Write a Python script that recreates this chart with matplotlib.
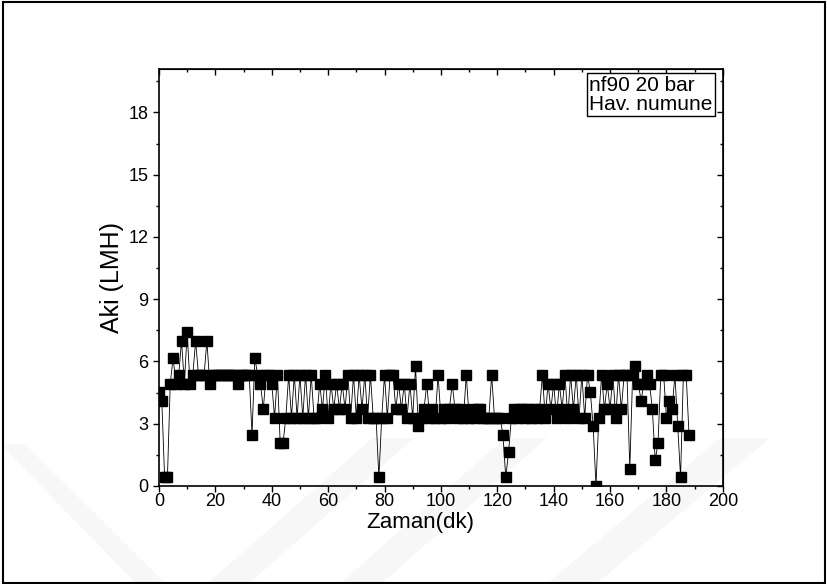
import numpy as np
import matplotlib.pyplot as plt
from matplotlib.patches import Rectangle, Polygon
from matplotlib.ticker import MultipleLocator

plt.rcParams['font.family'] = ['Liberation Sans', 'DejaVu Sans']

# flux readings, one per minute
zaman = list(range(189))
aki = [4.52, 4.11, 0.41, 0.41, 4.93, 6.17, 4.93, 5.35, 6.99, 4.93,
       7.40, 4.93, 5.35, 6.99, 5.35, 5.35, 5.35, 6.99, 4.93, 5.35,
       5.35, 5.35, 5.35, 5.35, 5.35, 5.35, 5.35, 5.35, 4.93, 5.35,
       5.35, 5.35, 5.35, 2.47, 6.17, 5.35, 4.93, 3.70, 5.35, 5.35,
       4.93, 3.29, 5.35, 2.06, 2.06, 3.29, 5.35, 3.29, 5.35, 3.29,
       5.35, 3.29, 5.35, 3.29, 5.35, 3.29, 3.29, 4.93, 3.70, 5.35,
       3.29, 4.93, 3.70, 4.93, 3.70, 4.93, 3.70, 5.35, 3.29, 5.35,
       3.29, 5.35, 3.70, 5.35, 3.29, 5.35, 3.29, 3.29, 0.41, 3.29,
       5.35, 3.29, 5.35, 5.35, 3.70, 4.93, 3.70, 4.93, 3.29, 4.93,
       3.29, 5.76, 2.88, 3.29, 3.70, 4.93, 3.29, 3.70, 3.29, 5.35,
       3.29, 3.70, 3.29, 3.70, 4.93, 3.70, 3.29, 3.70, 3.29, 5.35,
       3.29, 3.70, 3.29, 3.70, 3.70, 3.29, 3.29, 3.29, 5.35, 3.29,
       3.29, 3.29, 2.47, 0.41, 1.64, 3.29, 3.70, 3.29, 3.70, 3.70,
       3.29, 3.70, 3.29, 3.70, 3.29, 3.70, 5.35, 3.29, 4.93, 3.70,
       4.93, 3.29, 4.93, 3.70, 5.35, 3.29, 5.35, 3.70, 5.35, 3.29,
       5.35, 3.29, 5.35, 4.52, 2.88, 0.00, 3.29, 5.35, 3.70, 4.93,
       3.70, 5.35, 3.29, 5.35, 3.70, 5.35, 5.35, 0.82, 5.35, 5.76,
       4.93, 4.11, 4.93, 5.35, 4.93, 3.70, 1.23, 2.06, 5.35, 5.35,
       3.29, 4.11, 3.70, 5.35, 2.88, 0.41, 5.35, 5.35, 2.47]

fig = plt.figure(figsize=(8.28, 5.84), dpi=100)

# faint watermark bands behind everything
wm = [[(0.0, 0.24), (0.03, 0.24), (0.2, 0.0), (0.165, 0.0)],
      [(0.25, 0.0), (0.3, 0.0), (0.5, 0.25), (0.45, 0.25)],
      [(0.41, 0.0), (0.46, 0.0), (0.66, 0.25), (0.61, 0.25)],
      [(0.66, 0.0), (0.72, 0.0), (0.93, 0.25), (0.87, 0.25)]]
for pts in wm:
    fig.patches.append(Polygon(pts, closed=True, transform=fig.transFigure,
                               facecolor='#f7f7f7', edgecolor='none', zorder=-5))

fig.patches.append(Rectangle((0.004, 0.002), 0.992, 0.994, transform=fig.transFigure,
                             fill=False, edgecolor='black', linewidth=1.5, zorder=-4))

ax = fig.add_axes([0.192, 0.168, 0.681, 0.714])
ax.patch.set_alpha(0)
ax.plot(zaman, aki, color='black', linewidth=0.6, marker='s', markersize=6.5,
        markerfacecolor='black', markeredgecolor='black')

ax.set_xlim(0, 200)
ax.set_ylim(0, 20.1)
ax.xaxis.set_major_locator(MultipleLocator(20))
ax.xaxis.set_minor_locator(MultipleLocator(10))
ax.yaxis.set_major_locator(MultipleLocator(3))
ax.yaxis.set_minor_locator(MultipleLocator(1.5))
ax.tick_params(which='major', direction='out', length=4, width=1, labelsize=13)
ax.tick_params(axis='x', which='major', pad=1)
ax.tick_params(which='minor', direction='out', length=2.5, width=1)

# mirrored ticks on top and right, pointing inward
top = ax.secondary_xaxis('top')
top.xaxis.set_major_locator(MultipleLocator(20))
top.xaxis.set_minor_locator(MultipleLocator(10))
top.tick_params(which='major', direction='in', length=4, width=1, labeltop=False)
top.tick_params(which='minor', direction='in', length=2.5, width=1)
right = ax.secondary_yaxis('right')
right.yaxis.set_major_locator(MultipleLocator(3))
right.yaxis.set_minor_locator(MultipleLocator(1.5))
right.tick_params(which='major', direction='in', length=4, width=1, labelright=False)
right.tick_params(which='minor', direction='in', length=2.5, width=1)

for s in ax.spines.values():
    s.set_linewidth(1.2)

ax.set_xlabel("Zaman(dk)", fontsize=16)
ax.xaxis.set_label_coords(0.463, -0.062)
ax.set_ylabel("Aki (LMH)", fontsize=18)
ax.yaxis.set_label_coords(-0.062, 0.5)

ax.text(0.763, 0.984, "nf90 20 bar\nHav. numune", transform=ax.transAxes,
        ha='left', va='top', multialignment='left', fontsize=15, linespacing=1.0,
        bbox=dict(boxstyle='square,pad=0.12', facecolor='white', edgecolor='black',
                  linewidth=1))

fig.savefig("out.png", dpi=100)
